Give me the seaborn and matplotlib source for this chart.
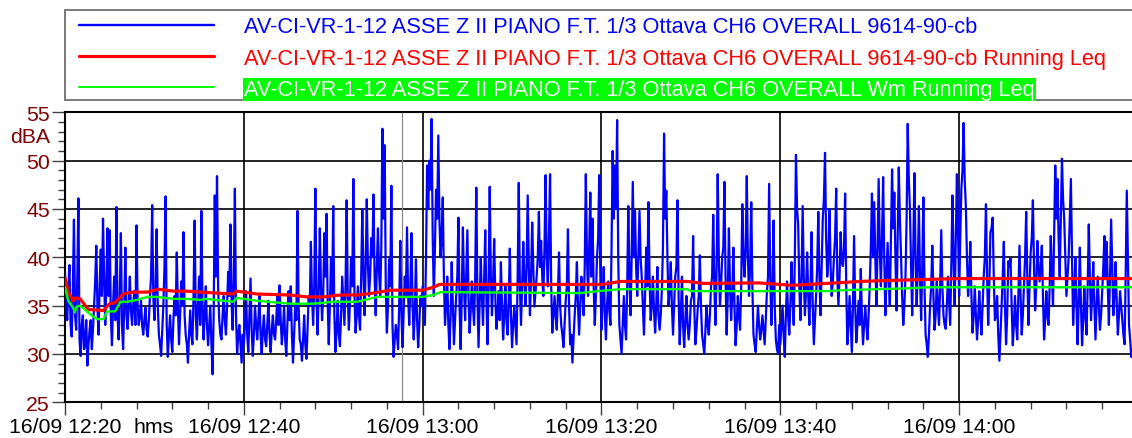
import numpy as np
import pandas as pd
import matplotlib
matplotlib.use("Agg")
import matplotlib.pyplot as plt
import matplotlib.dates as mdates
import matplotlib.transforms as mtransforms
from matplotlib.lines import Line2D
from matplotlib.patches import Rectangle
from matplotlib.ticker import MultipleLocator
import seaborn as sns

sns.set_style("white")
plt.rcParams["font.family"] = ["Liberation Sans", "DejaVu Sans"]

# Measurement start; the short-time level is read every 15 s, with an
# extra reading half-way between two of them (7.5 s)
start = pd.Timestamp("2021-09-16 12:20:00")
end = pd.Timestamp("2021-09-16 14:19:20")
cursor_time = pd.Timestamp("2021-09-16 12:57:40")
step_s = 15.0
half_s = 7.5

# Short-time levels in dBA, one block per 20 minutes (readings on the 15 s grid)
level_1220 = [38.5, 33.5, 39.2, 31.8, 43.9, 32.5, 46.1, 29.8, 34.0, 31.0,
              28.8, 32.5, 30.5, 35.0, 41.2, 32.0, 40.8, 44.0, 33.0, 43.0,
              42.8, 30.9, 38.0, 45.2, 31.5, 42.5, 30.5, 41.0, 32.6, 38.0,
              33.0, 36.5, 43.3, 33.0, 35.5, 32.0, 34.8, 31.8, 36.0, 45.4,
              33.5, 42.9, 32.0, 29.8, 35.0, 46.3, 29.7, 34.0, 30.2, 36.0,
              40.5, 31.0, 37.5, 42.6, 32.0, 29.1, 34.5, 31.0, 43.8, 31.5,
              38.0, 44.8, 31.5, 37.0, 30.9, 35.0, 27.9, 46.4, 48.4, 33.5,
              31.5, 36.0, 32.0, 38.5, 43.4, 32.5, 47.1, 30.0, 33.0, 29.1]
level_1240 = [31.0, 36.5, 30.2, 37.8, 29.8, 35.0, 31.5, 36.0, 30.0, 34.0,
              30.8, 35.5, 30.2, 34.0, 31.5, 36.0, 37.1, 31.0, 35.0, 29.8,
              36.5, 37.0, 29.1, 35.0, 44.8, 31.5, 29.3, 34.0, 29.5, 36.0,
              41.6, 33.0, 47.1, 32.0, 43.0, 33.5, 42.5, 44.5, 31.0, 40.0,
              45.3, 30.2, 35.5, 30.8, 38.0, 33.0, 45.9, 32.5, 40.0, 48.1,
              32.2, 37.0, 32.5, 45.0, 34.0, 46.0, 36.0, 42.0, 46.5, 34.0,
              43.0, 36.0, 53.3, 51.6, 32.2, 39.8, 47.4, 29.7, 33.0, 30.5,
              41.7, 30.7, 38.0, 43.1, 33.0, 42.5, 31.5, 39.8, 30.7, 36.0]
level_1300 = [37.0, 33.0, 49.5, 50.0, 54.3, 36.0, 47.0, 52.6, 40.0, 46.2,
              33.0, 38.0, 30.5, 39.5, 31.0, 36.0, 44.1, 30.5, 43.1, 33.5,
              42.8, 32.2, 37.5, 33.0, 47.2, 30.7, 40.0, 33.0, 42.8, 31.0,
              47.3, 34.0, 41.9, 32.6, 36.5, 39.5, 31.5, 37.0, 32.0, 40.9,
              30.7, 35.0, 31.0, 47.7, 33.0, 41.6, 35.0, 46.4, 34.0, 43.6,
              34.9, 38.0, 44.7, 41.7, 36.0, 48.5, 37.0, 48.6, 32.2, 36.0,
              32.5, 40.5, 33.0, 30.7, 35.5, 42.9, 31.0, 29.1, 34.0, 39.5,
              32.0, 38.0, 34.0, 48.6, 36.0, 46.7, 44.0, 33.0, 40.0, 48.5]
level_1320 = [32.5, 39.0, 31.5, 37.5, 33.0, 51.0, 49.5, 54.2, 33.0, 30.0,
              36.0, 31.5, 45.3, 34.0, 47.8, 44.8, 36.0, 44.8, 38.0, 32.0,
              41.0, 45.7, 33.5, 38.0, 32.2, 39.0, 32.5, 36.5, 52.8, 46.9,
              35.0, 39.5, 32.0, 38.0, 45.9, 31.0, 38.0, 30.7, 36.0, 31.5,
              35.5, 42.2, 31.0, 34.5, 40.2, 32.0, 30.0, 35.0, 32.0, 37.0,
              44.4, 33.0, 48.6, 35.0, 40.0, 47.8, 32.0, 43.0, 33.5, 41.0,
              30.9, 36.0, 32.5, 45.5, 38.0, 48.4, 36.0, 45.7, 32.0, 30.2,
              35.0, 31.5, 34.0, 31.0, 36.4, 47.6, 33.0, 43.8, 31.5, 30.0]
level_1340 = [31.0, 35.0, 29.7, 37.5, 32.0, 39.5, 33.0, 50.6, 43.4, 33.5,
              45.3, 34.0, 40.5, 33.0, 42.6, 31.0, 36.0, 44.7, 34.0, 44.0,
              50.8, 38.0, 45.0, 36.0, 40.0, 47.1, 35.0, 42.6, 39.1, 46.6,
              31.0, 36.0, 30.2, 42.2, 31.2, 35.5, 38.8, 31.0, 35.0, 31.5,
              37.0, 46.6, 45.7, 35.0, 48.1, 37.0, 48.3, 34.0, 41.5, 35.0,
              49.1, 46.7, 34.5, 49.3, 40.2, 33.0, 38.0, 53.8, 45.0, 34.0,
              48.7, 35.0, 45.3, 33.5, 46.2, 32.0, 29.7, 35.0, 41.2, 32.5,
              37.5, 33.0, 42.8, 34.0, 32.6, 38.0, 33.0, 46.4, 35.0, 48.6]
level_1400 = [36.0, 47.1, 53.9, 45.3, 36.0, 41.6, 32.2, 37.0, 31.5, 36.5,
              32.0, 38.0, 45.5, 33.0, 42.6, 44.1, 33.5, 36.0, 29.3, 35.0,
              41.6, 31.0, 39.6, 39.9, 30.9, 36.0, 31.5, 41.2, 32.0, 37.0,
              44.7, 33.0, 40.5, 45.9, 34.5, 41.7, 37.5, 41.2, 31.5, 36.5,
              33.0, 42.2, 35.0, 49.5, 48.1, 38.0, 50.2, 44.0, 36.0, 40.0,
              48.1, 33.0, 40.0, 31.0, 41.0, 30.9, 37.0, 32.0, 43.4, 33.5,
              39.5, 31.5, 38.0, 32.5, 36.5, 42.2, 41.6, 33.0, 43.9, 34.0,
              39.5, 32.0, 36.5, 33.6, 31.0, 46.9, 33.0, 29.7]

# Readings half-way between the ones above (dBA)
mid_1220 = [35.0, 37.0, 33.0, 36.5, 34.0, 38.0, 31.5, 33.0, 30.5, 33.5,
            31.0, 33.5, 32.5, 37.5, 35.0, 37.0, 36.0, 38.0, 37.0, 36.0,
            34.0, 35.0, 33.5, 34.0, 36.0, 33.0, 35.0, 34.0, 35.0, 34.5,
            35.0, 33.0, 35.0, 34.0, 33.0, 33.5, 32.5, 33.5, 38.0, 36.0,
            37.0, 35.0, 31.0, 32.5, 39.0, 33.0, 32.0, 31.5, 33.5, 34.0,
            35.0, 34.0, 35.0, 34.0, 31.0, 32.0, 32.0, 36.0, 34.0, 35.0,
            33.0, 35.0, 34.0, 33.0, 33.0, 31.0, 34.0, 38.0, 37.0, 32.0,
            34.0, 33.5, 35.0, 36.0, 35.5, 38.0, 34.0, 32.0, 31.0, 32.0]
mid_1240 = [33.0, 32.0, 34.0, 32.5, 32.0, 33.0, 33.5, 32.0, 32.5, 31.5,
            33.0, 32.0, 32.5, 32.0, 33.5, 33.0, 33.5, 32.5, 31.5, 33.0,
            33.5, 32.0, 32.0, 33.5, 35.0, 31.0, 31.5, 31.0, 32.5, 35.0,
            36.0, 37.0, 36.0, 36.5, 37.0, 36.0, 38.0, 35.5, 35.0, 36.0,
            34.0, 32.5, 32.0, 34.0, 35.5, 37.0, 36.0, 35.5, 37.0, 36.0,
            34.0, 34.0, 38.0, 38.5, 39.0, 39.5, 38.0, 40.0, 38.0, 39.0,
            38.5, 41.0, 44.0, 37.0, 35.0, 37.0, 33.0, 31.5, 32.0, 35.0,
            34.0, 34.5, 36.0, 36.0, 37.0, 35.0, 34.5, 33.5, 33.0, 35.0]
mid_1300 = [35.0, 40.0, 45.0, 47.0, 42.0, 41.0, 44.0, 44.0, 42.0, 38.0,
            35.0, 33.0, 34.0, 35.0, 33.5, 38.0, 35.0, 36.0, 37.0, 38.0,
            36.0, 34.5, 35.0, 38.0, 36.0, 35.5, 36.0, 37.5, 36.0, 37.0,
            38.0, 37.5, 36.0, 34.0, 33.5, 35.0, 34.0, 33.5, 35.5, 34.0,
            33.0, 33.0, 38.0, 37.0, 37.0, 38.0, 39.0, 39.0, 38.0, 39.0,
            36.5, 40.0, 39.0, 38.0, 41.0, 40.0, 42.0, 37.0, 34.0, 34.0,
            36.0, 35.0, 32.0, 33.0, 37.0, 35.0, 32.0, 31.5, 36.0, 35.0,
            35.0, 36.5, 39.0, 40.0, 41.0, 38.0, 37.0, 36.0, 42.0, 38.0]
mid_1320 = [35.5, 34.0, 35.0, 34.5, 41.0, 44.0, 45.0, 40.0, 31.5, 33.0,
            33.0, 37.0, 38.0, 40.0, 40.0, 39.0, 40.0, 40.0, 35.0, 36.0,
            37.0, 38.0, 35.0, 34.5, 35.0, 34.0, 34.0, 41.0, 44.0, 40.0,
            36.5, 35.0, 35.0, 39.0, 36.0, 34.0, 33.0, 33.5, 33.0, 33.0,
            36.0, 35.0, 32.5, 36.0, 35.0, 31.0, 32.5, 33.0, 34.0, 38.0,
            37.0, 39.0, 40.0, 37.0, 41.0, 38.0, 36.0, 37.0, 36.0, 35.0,
            33.0, 34.0, 37.0, 40.0, 41.0, 40.0, 39.0, 37.0, 31.0, 32.5,
            33.0, 32.5, 32.5, 33.5, 38.0, 38.0, 37.0, 35.0, 30.5, 33.0]
mid_1340 = [33.0, 32.0, 34.0, 34.0, 35.0, 36.0, 40.0, 45.0, 37.0, 38.0,
            38.0, 36.5, 36.0, 37.0, 35.0, 33.5, 39.0, 38.0, 39.0, 46.0,
            42.0, 40.0, 39.0, 37.5, 42.0, 38.0, 38.0, 39.5, 41.0, 37.0,
            33.0, 33.0, 35.0, 35.0, 33.0, 33.0, 34.0, 33.0, 33.0, 34.0,
            41.0, 40.0, 40.0, 41.0, 41.0, 42.0, 40.0, 38.0, 38.0, 42.0,
            43.0, 40.0, 42.0, 44.0, 36.0, 35.0, 44.0, 48.0, 39.0, 41.0,
            40.0, 39.0, 38.0, 39.0, 37.0, 31.0, 32.0, 37.0, 36.0, 34.0,
            35.0, 37.0, 37.0, 33.0, 35.0, 35.5, 39.0, 40.0, 42.0, 43.0]
mid_1400 = [42.0, 49.0, 48.0, 40.0, 38.0, 36.0, 34.0, 34.0, 33.5, 34.0,
            35.0, 40.0, 38.0, 37.0, 43.0, 38.0, 34.0, 32.0, 32.0, 38.0,
            35.0, 34.0, 39.0, 35.0, 33.0, 33.0, 36.0, 36.0, 34.0, 40.0,
            38.0, 37.0, 42.0, 39.0, 37.0, 39.0, 39.0, 36.0, 33.5, 34.0,
            37.0, 38.0, 42.0, 44.0, 42.0, 44.0, 46.0, 40.0, 38.0, 44.0,
            40.0, 36.0, 35.0, 35.5, 35.0, 33.5, 34.0, 37.0, 38.0, 36.0,
            35.0, 35.0, 35.0, 34.0, 39.0, 38.0, 37.0, 38.0, 39.0, 36.0,
            35.5, 34.0, 35.0, 32.0, 38.0, 40.0, 31.5, 30.5]

level_blocks = [level_1220, level_1240, level_1300, level_1320, level_1340, level_1400]
mid_blocks = [mid_1220, mid_1240, mid_1300, mid_1320, mid_1340, mid_1400]

# Running Leq (minutes from start, dBA)
leq_minutes = [0.0, 0.37, 0.9, 1.2, 1.7, 2.6, 4.3, 5.0, 5.6, 6.5, 7.6, 9.2, 10.4,
               12.1, 13.6, 15.1, 18.8, 19.2, 21.5, 25.2, 27.1, 28.9, 30.8, 32.7,
               34.5, 36.4, 40.0, 41.2, 41.9, 57.6, 60.2, 62.1, 69.6, 71.4, 77.6,
               81.4, 85.2, 88.9, 91.9, 100.0, 119.3]
leq_values = [37.9, 36.4, 35.5, 35.8, 35.7, 34.6, 34.5, 35.2, 35.3, 36.2, 36.4, 36.4,
              36.7, 36.5, 36.5, 36.4, 36.2, 36.5, 36.2, 36.1, 35.9, 35.9, 36.1, 36.1,
              36.3, 36.6, 36.6, 36.9, 37.2, 37.2, 37.2, 37.5, 37.5, 37.3, 37.35,
              37.1, 37.3, 37.5, 37.6, 37.8, 37.8]

# Wm-weighted running Leq (minutes from start, dBA)
wm_minutes = [0.0, 0.37, 0.9, 1.1, 1.3, 1.7, 3.1, 3.6, 4.3, 4.7, 5.6, 6.2, 6.9, 8.1,
              9.2, 10.3, 12.1, 13.6, 15.1, 15.8, 18.8, 19.2, 21.5, 25.2, 27.8, 30.0,
              32.7, 34.9, 40.0, 41.2, 42.0, 57.6, 59.6, 62.1, 69.6, 70.0, 79.6, 85.2,
              87.0, 90.8, 94.5, 96.4, 119.3]
wm_values = [36.9, 35.5, 34.8, 34.3, 34.9, 35.0, 33.9, 33.6, 33.6, 34.4, 34.4, 35.4,
             35.4, 35.6, 35.9, 35.9, 35.7, 35.7, 35.6, 35.7, 35.4, 35.8, 35.5, 35.2,
             35.2, 35.4, 35.4, 35.9, 35.9, 36.1, 36.4, 36.3, 36.5, 36.7, 36.7, 36.5,
             36.5, 36.5, 36.6, 36.7, 36.8, 36.9, 36.9]

labels = [
    "AV-CI-VR-1-12 ASSE Z II PIANO F.T. 1/3 Ottava CH6 OVERALL 9614-90-cb",
    "AV-CI-VR-1-12 ASSE Z II PIANO F.T. 1/3 Ottava CH6 OVERALL 9614-90-cb Running Leq",
    "AV-CI-VR-1-12 ASSE Z II PIANO F.T. 1/3 Ottava CH6 OVERALL Wm Running Leq",
]
colors = ["#0000FF", "#FF0000", "#00FF00"]
tick_red = "#800000"

# Assemble the time series
times, levels = [], []
for k, (block, mids) in enumerate(zip(level_blocks, mid_blocks)):
    t0 = start + pd.Timedelta(minutes=20 * k)
    for i, v in enumerate(block):
        times.append(t0 + pd.Timedelta(seconds=step_s * i))
        levels.append(v)
    for i, v in enumerate(mids):
        times.append(t0 + pd.Timedelta(seconds=step_s * i + half_s))
        levels.append(v)
df_level = pd.DataFrame({"time": times, "dBA": levels}).sort_values("time")
df_leq = pd.DataFrame({"time": [start + pd.Timedelta(minutes=m) for m in leq_minutes],
                       "dBA": leq_values})
df_wm = pd.DataFrame({"time": [start + pd.Timedelta(minutes=m) for m in wm_minutes],
                      "dBA": wm_values})

W, H = 1132, 439
fig = plt.figure(figsize=(W / 100, H / 100), dpi=100)
ax = fig.add_axes([65 / W, 35.7 / H, 1067 / W, 290 / H])

sns.lineplot(data=df_level, x="time", y="dBA", ax=ax, color=colors[0], lw=1.6,
             estimator=None, sort=False, zorder=3)
sns.lineplot(data=df_leq, x="time", y="dBA", ax=ax, color=colors[1], lw=2.3,
             estimator=None, sort=False, zorder=4)
sns.lineplot(data=df_wm, x="time", y="dBA", ax=ax, color=colors[2], lw=1.7,
             estimator=None, sort=False, zorder=5)

ax.axvline(cursor_time, color="#8c8c8c", lw=0.9, zorder=2)

ax.set_xlim(start, end)
ax.set_ylim(25, 55)
ax.set_xlabel("")
ax.set_ylabel("")

ax.yaxis.set_major_locator(MultipleLocator(5))
ax.yaxis.set_minor_locator(MultipleLocator(1))
ax.xaxis.set_major_locator(mdates.MinuteLocator(byminute=[0, 20, 40]))
ax.xaxis.set_minor_locator(mdates.MinuteLocator(byminute=range(0, 60, 4)))
ax.xaxis.set_major_formatter(mdates.DateFormatter("%d/%m %H:%M"))

ax.grid(True, which="major", color="black", lw=1.2, zorder=1)
ax.grid(False, which="minor")

for side in ["left", "bottom", "top"]:
    ax.spines[side].set_visible(True)
    ax.spines[side].set_color("black")
    ax.spines[side].set_linewidth(1.5)
ax.spines["right"].set_visible(False)

ax.tick_params(axis="both", which="major", direction="out", length=9.4, width=1.0,
               color="#404040", labelsize=15.3)
ax.tick_params(axis="both", which="minor", direction="out", length=5.3, width=1.0,
               color="#404040")
ax.tick_params(axis="y", which="major", pad=1.5, labelcolor=tick_red,
               left=True, right=False)
ax.tick_params(axis="y", which="minor", left=True, right=False)
ax.tick_params(axis="x", which="major", pad=1.0, labelcolor="black",
               bottom=True, top=False)
ax.tick_params(axis="x", which="minor", bottom=True, top=False)

# Unit labels
ytrans = mtransforms.blended_transform_factory(ax.transAxes, ax.transData)
ax.text(-15 / 1067, 52.45, "dBA", transform=ytrans, ha="right", va="center",
        color=tick_red, fontsize=15.3)
ax.text(89 / 1067, -14.4 / 290, "hms", transform=ax.transAxes, ha="center",
        va="top", color="black", fontsize=15.3)

# Legend box
fig.patches.append(Rectangle((65.3 / W, 1 - 100.7 / H), (W + 20 - 65.3) / W, 90 / H,
                             transform=fig.transFigure, facecolor="white",
                             edgecolor="#707070", lw=1.3, zorder=0))
handles = [Line2D([], [], color=colors[0], lw=1.7),
           Line2D([], [], color=colors[1], lw=2.3),
           Line2D([], [], color=colors[2], lw=1.4)]
leg = fig.legend(handles, labels, loc="upper left",
                 bbox_to_anchor=(79.3 / W, 1 - 17.5 / H), bbox_transform=fig.transFigure,
                 frameon=False, borderpad=0, borderaxespad=0, handlelength=6.2,
                 handletextpad=1.36, labelspacing=0.47, prop={"size": 15.7},
                 labelcolor=[colors[0], colors[1], "white"])
leg.get_texts()[2].set_bbox(dict(facecolor=colors[2], edgecolor="none", pad=0.6))

fig.savefig("out.png", dpi=100, facecolor="white")
